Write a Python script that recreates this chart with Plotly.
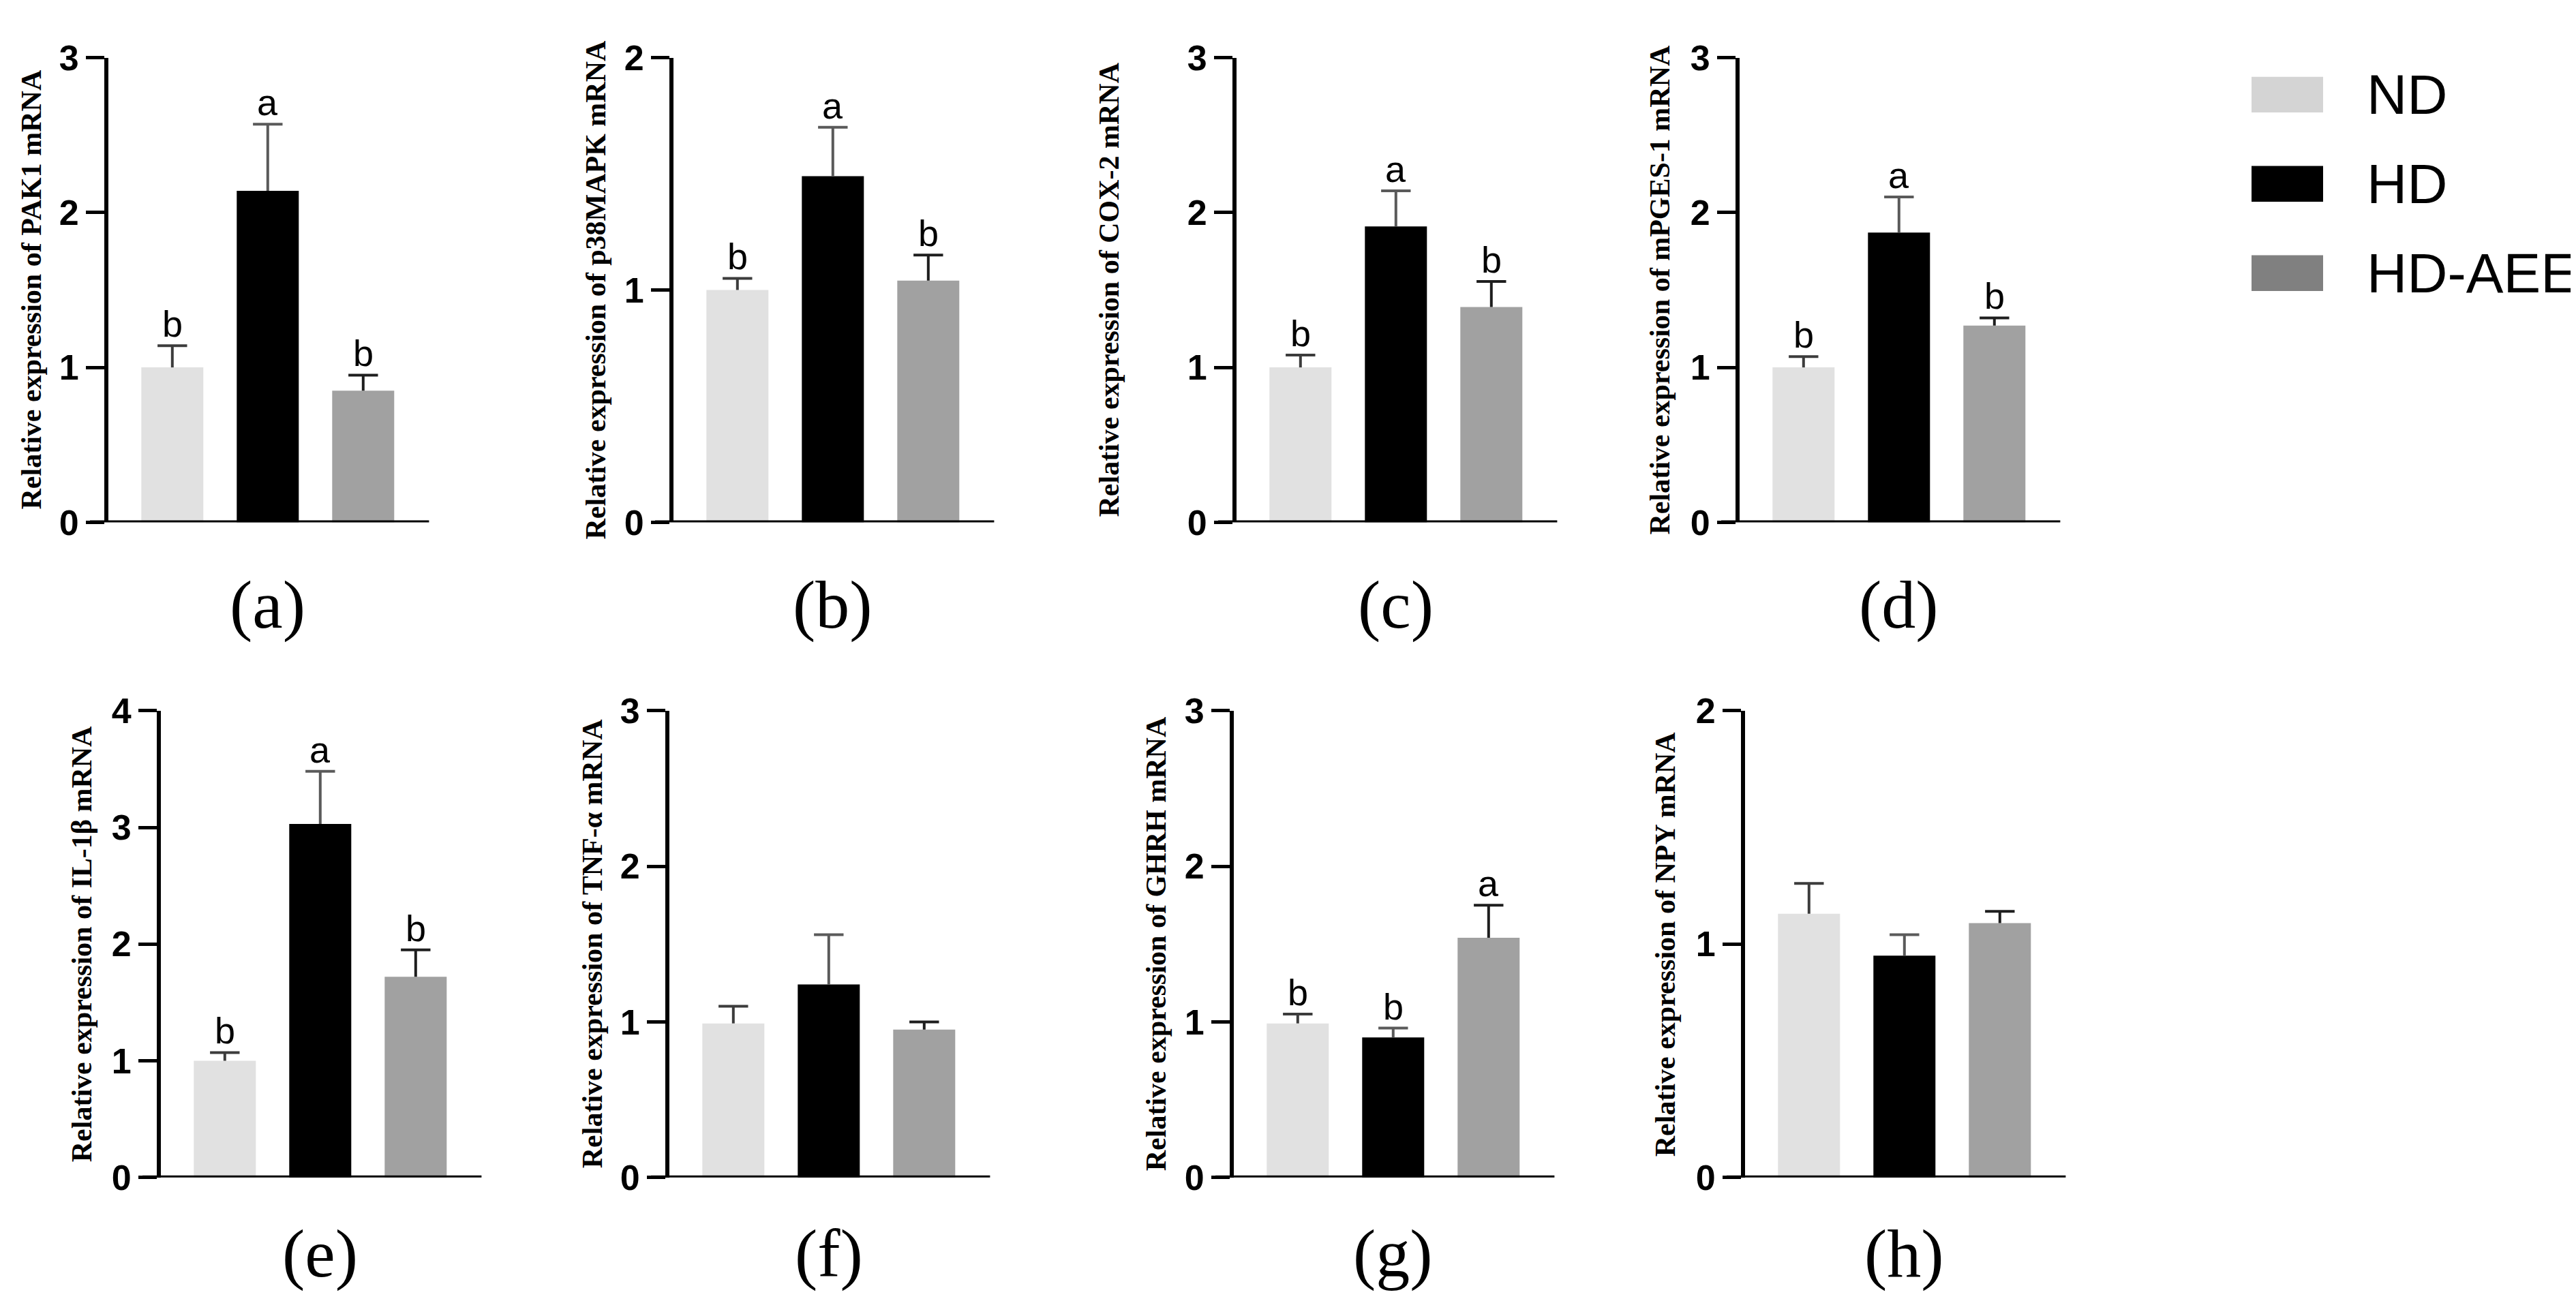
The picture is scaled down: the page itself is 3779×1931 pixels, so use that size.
import plotly.graph_objects as go

W, H = 3779, 1931

groups = ['ND', 'HD', 'HD-AEE']
bar_colors = ['#e1e1e1', '#000000', '#a1a1a1']
err_colors = ['#3c3c3c', '#5a5a5a', '#1e1e1e']
legend_colors = ['#d4d4d4', '#000000', '#808080']

genes = ['PAK1', 'p38MAPK', 'COX-2', 'mPGES-1', 'IL-1β', 'TNF-α', 'GHRH', 'NPY']
tags = ['(a)', '(b)', '(c)', '(d)', '(e)', '(f)', '(g)', '(h)']
y_max = [3, 2, 3, 3, 4, 3, 3, 2]

# values (mean, upper error, letters)
pak1 = [1.00, 2.14, 0.85]
pak1_err = [0.14, 0.43, 0.10]
pak1_sig = ['b', 'a', 'b']

p38mapk = [1.00, 1.49, 1.04]
p38mapk_err = [0.05, 0.21, 0.11]
p38mapk_sig = ['b', 'a', 'b']

cox2 = [1.00, 1.91, 1.39]
cox2_err = [0.08, 0.23, 0.165]
cox2_sig = ['b', 'a', 'b']

mpges1 = [1.00, 1.87, 1.27]
mpges1_err = [0.07, 0.23, 0.05]
mpges1_sig = ['b', 'a', 'b']

il1b = [1.00, 3.03, 1.72]
il1b_err = [0.07, 0.45, 0.23]
il1b_sig = ['b', 'a', 'b']

tnfa = [0.99, 1.24, 0.95]
tnfa_err = [0.11, 0.32, 0.05]
tnfa_sig = []

ghrh = [0.99, 0.90, 1.54]
ghrh_err = [0.06, 0.06, 0.21]
ghrh_sig = ['b', 'b', 'a']

npy = [1.13, 0.95, 1.09]
npy_err = [0.13, 0.09, 0.05]
npy_sig = []

means = [pak1, p38mapk, cox2, mpges1, il1b, tnfa, ghrh, npy]
errs = [pak1_err, p38mapk_err, cox2_err, mpges1_err, il1b_err, tnfa_err, ghrh_err, npy_err]
sigs = [pak1_sig, p38mapk_sig, cox2_sig, mpges1_sig, il1b_sig, tnfa_sig, ghrh_sig, npy_sig]

# panel placement in pixels
axis_x0 = [151, 980, 1806, 2544, 228, 974, 1802, 2552]
title_x = [38, 866, 1619, 2427, 112, 861, 1688, 2435]
top_px = [49, 49, 49, 49, 1037, 1037, 1037, 1037]
bot_px = [752, 752, 752, 752, 1743, 1743, 1743, 1743]
tag_y = [877, 877, 877, 877, 1858, 1858, 1858, 1858]
x_range = [-0.67, 2.69]
cat_px = 140
plot_w = (x_range[1] - x_range[0]) * cat_px

fig = go.Figure()
annotations = []
shapes = []
layout = {}

for i in range(8):
    n = i + 1
    xa = 'x' if n == 1 else f'x{n}'
    ya = 'y' if n == 1 else f'y{n}'
    xkey = 'xaxis' if n == 1 else f'xaxis{n}'
    ykey = 'yaxis' if n == 1 else f'yaxis{n}'

    for j, g in enumerate(groups):
        fig.add_trace(go.Bar(
            x=[g], y=[means[i][j]], width=0.65,
            marker=dict(color=bar_colors[j], line=dict(width=0)),
            error_y=dict(type='data', array=[errs[i][j]], arrayminus=[0], symmetric=False,
                         width=0, thickness=4, color=err_colors[j]),
            xaxis=xa, yaxis=ya, showlegend=False, name=g))

    caps = [m + e for m, e in zip(means[i], errs[i])]
    fig.add_trace(go.Scatter(
        x=groups, y=caps, mode='markers',
        marker=dict(symbol='line-ew', size=31, line=dict(width=4, color=err_colors)),
        xaxis=xa, yaxis=ya, showlegend=False, hoverinfo='skip'))

    for g, c, s in zip(groups, caps, sigs[i]):
        annotations.append(dict(x=g, y=c, xref=xa, yref=ya, text=s, showarrow=False,
                                yanchor='bottom', yshift=0,
                                font=dict(family='Liberation Sans', size=54, color='black')))

    x0 = axis_x0[i] / W
    x1 = (axis_x0[i] + plot_w) / W
    y0 = 1 - bot_px[i] / H
    y1 = 1 - top_px[i] / H

    layout[xkey] = dict(domain=[x0, x1], range=x_range, type='category',
                        showline=False, showticklabels=False, ticks='',
                        showgrid=False, zeroline=False, anchor=ya)
    layout[ykey] = dict(domain=[y0, y1], range=[0, y_max[i]],
                        tickvals=list(range(y_max[i] + 1)),
                        ticks='outside', ticklen=27, tickwidth=5, tickcolor='black',
                        showline=True, linewidth=6, linecolor='black',
                        showgrid=False, zeroline=False, anchor=xa,
                        tickfont=dict(family='Liberation Sans', size=52, color='black', weight='bold'))

    # x-axis baseline, running out to the tick marks like the original
    shapes.append(dict(type='line', xref=f'{xa} domain', yref=ya,
                       x0=-27 / plot_w, x1=1, y0=0, y1=0,
                       line=dict(color='black', width=6)))

    annotations.append(dict(x=title_x[i] / W, y=(y0 + y1) / 2, xref='paper', yref='paper',
                            text=f'<b>Relative expression of {genes[i]} mRNA</b>',
                            textangle=-90, showarrow=False,
                            xanchor='center', yanchor='middle',
                            font=dict(family='Liberation Serif', size=42, color='black')))
    annotations.append(dict(x='HD', y=1 - tag_y[i] / H, xref=xa, yref='paper',
                            text=tags[i], showarrow=False,
                            xanchor='center', yanchor='middle',
                            font=dict(family='Liberation Serif', size=100, color='black')))

# legend drawn by hand (large swatches)
leg_y = [105, 240, 375]
for g, c, yc in zip(groups, legend_colors, leg_y):
    shapes.append(dict(type='rect', xref='paper', yref='paper',
                       x0=3295 / W, x1=3400 / W, y0=1 - (yc + 27) / H, y1=1 - (yc - 27) / H,
                       fillcolor=c, line=dict(width=0)))
    annotations.append(dict(x=3462 / W, y=1 - yc / H, xref='paper', yref='paper',
                            text=g, showarrow=False, xanchor='left', yanchor='middle',
                            font=dict(family='Liberation Sans', size=82, color='black')))

fig.update_layout(width=W, height=H, margin=dict(l=0, r=0, t=0, b=0),
                  paper_bgcolor='white', plot_bgcolor='white',
                  barmode='overlay', showlegend=False,
                  annotations=annotations, shapes=shapes, **layout)

fig.write_html('out.html')
